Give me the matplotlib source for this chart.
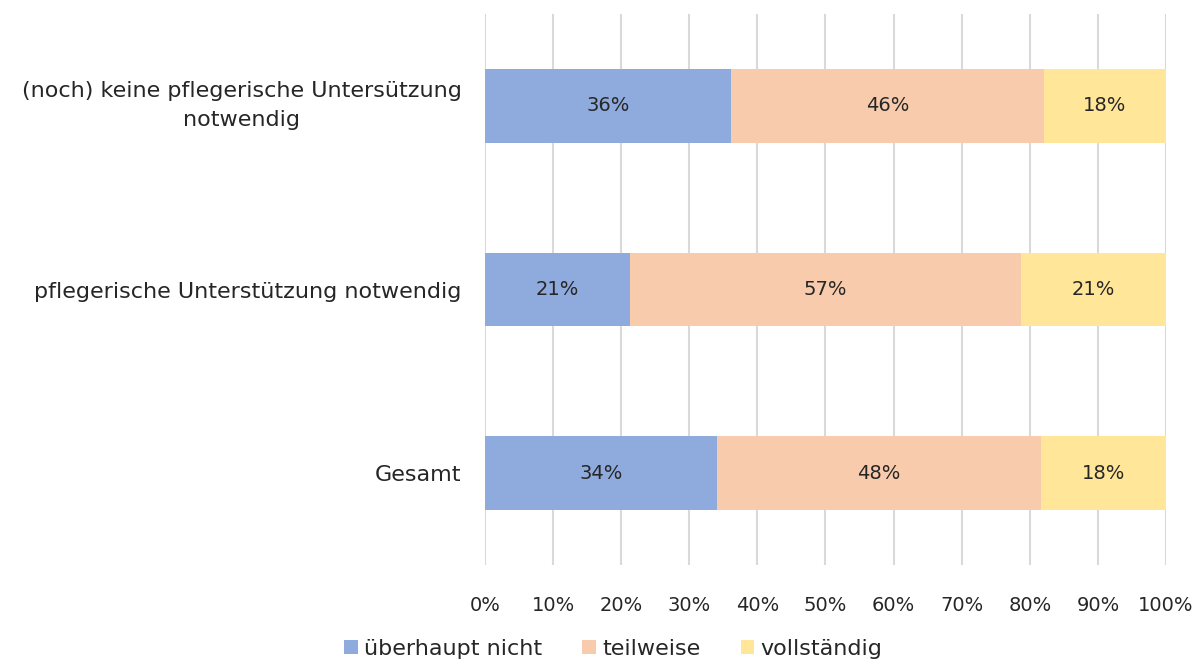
import matplotlib
matplotlib.use("Agg")
import matplotlib.pyplot as plt
import numpy as np

categories = ["(noch) keine pflegerische Untersützung\nnotwendig",
              "pflegerische Unterstützung notwendig",
              "Gesamt"]
series_names = ["überhaupt nicht", "teilweise", "vollständig"]
ueberhaupt_nicht = [36.1, 21.3, 34.1]
teilweise = [46.0, 57.4, 47.5]
vollstaendig = [17.9, 21.3, 18.4]
tick_labels = [f"{v}%" for v in range(0, 101, 10)]

colors = ["#8FAADC", "#F8CBAD", "#FFE699"]

plt.rcParams['font.family'] = ['DejaVu Sans']
fig = plt.figure(figsize=(11.98, 6.61), dpi=100)
ax = fig.add_axes([485/1198, 1-565/661, (1166-485)/1198, (565-14)/661])

y = np.arange(len(categories))
left = np.zeros(len(categories))
for name, vals, c in zip(series_names, [ueberhaupt_nicht, teilweise, vollstaendig], colors):
    vals = np.array(vals)
    ax.barh(y, vals, left=left, height=0.4, color=c, label=name, zorder=3)
    for yi, l, v in zip(y, left, vals):
        ax.text(l + v/2, yi, f"{round(v):.0f}%", ha="center", va="center",
                fontsize=14, color="#262626", zorder=4)
    left += vals

ax.set_xlim(0, 100)
ax.set_ylim(2.5, -0.5)
ax.set_xticks(range(0, 101, 10))
ax.set_xticklabels(tick_labels, fontsize=14, color="#262626")
ax.set_yticks(y)
ax.set_yticklabels(categories, fontsize=16, color="#262626", ha="right")
ax.tick_params(axis="y", length=0, pad=17)
ax.tick_params(axis="x", length=0, pad=22)
for lab in ax.get_yticklabels():
    lab.set_multialignment("center")
    lab.set_linespacing(1.55)
    if "\n" in lab.get_text():
        lab.set_va("center")
ax.xaxis.grid(True, color="#D9D9D9", linewidth=1.5, zorder=0)
for s in ax.spines.values():
    s.set_visible(False)

leg = fig.legend(loc="center", bbox_to_anchor=(0.512, 1-649/661), ncol=3, frameon=False,
                 fontsize=16, handlelength=0.6, handleheight=0.6, handletextpad=0.3,
                 columnspacing=1.8, labelcolor="#262626")
fig.savefig("out.png", dpi=100)
